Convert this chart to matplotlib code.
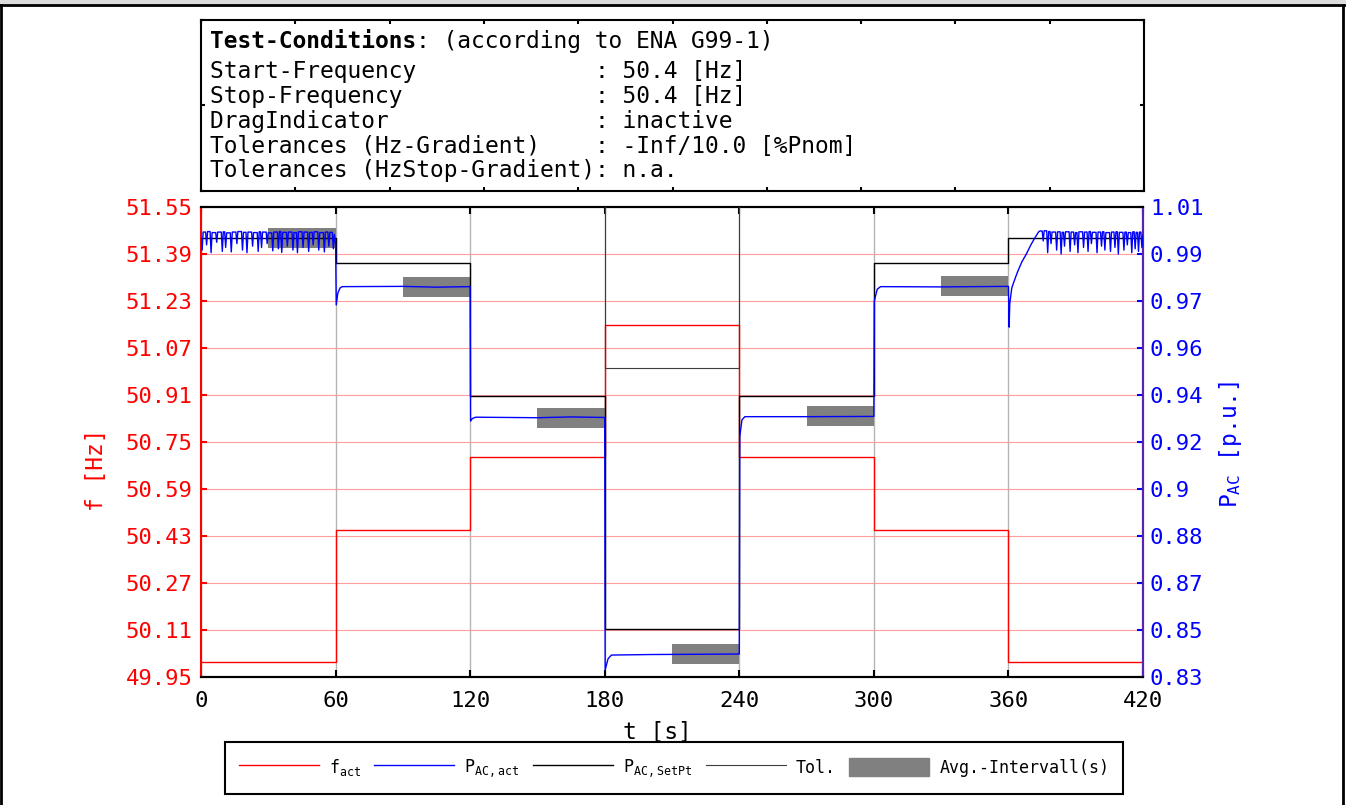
import numpy as np
import matplotlib
matplotlib.use("Agg")
import matplotlib.pyplot as plt
from matplotlib.lines import Line2D
from matplotlib.patches import Patch

plt.rcParams['font.family'] = ['DejaVu Sans Mono']
plt.rcParams['mathtext.default'] = 'regular'

# step boundaries (s) and levels per 60 s segment
seg_edges = [0, 60, 120, 180, 240, 300, 360, 420]
f_act_levels = [50.0, 50.45, 50.70, 51.15, 50.70, 50.45, 50.0]
p_setpt_levels = [0.9982, 0.9886, 0.9376, 0.8484, 0.9376, 0.9886, 0.9982]
tol_levels = [1.0982, 1.0886, 1.0376, 0.9483, 1.0376, 1.0886, 1.0982]

# averaging intervals: start, centre, half height
avg_start = [30, 90, 150, 210, 270, 330]
avg_center = [0.9981, 0.9794, 0.9292, 0.8388, 0.9300, 0.9797]
avg_half = [0.0038, 0.0038, 0.0038, 0.0038, 0.0038, 0.0038]

# measured P_AC (p.u.) - first segment: dips below the upper level
dip_t0 = [0.5, 2.5, 4.5, 7.0, 9.5, 11.0, 13.5, 16.0, 18.5, 20.5, 23.0, 25.5, 27.0, 29.5,
          32.0, 34.5, 36.0, 38.5, 41.0, 43.0, 45.5, 48.0, 50.0, 52.5, 55.0, 57.0, 59.0]
dip_v0 = [0.9935, 0.9955, 0.9925, 0.9965, 0.9930, 0.9945, 0.9928, 0.9960, 0.9935, 0.9925,
          0.9950, 0.9930, 0.9945, 0.9960, 0.9932, 0.9940, 0.9926, 0.9950, 0.9935, 0.9925,
          0.9945, 0.9930, 0.9955, 0.9935, 0.9928, 0.9950, 0.9940]
top_v0 = [1.0004, 1.0006, 1.0002, 1.0004, 1.0005, 1.0001, 1.0004, 1.0006, 1.0003, 1.0004,
          1.0002, 1.0005, 1.0004, 1.0001, 1.0004, 1.0006, 1.0003, 1.0004, 1.0002, 1.0005,
          1.0004, 1.0003, 1.0005, 1.0002, 1.0004, 1.0003, 0.9995]
# transitions between segments
p_mid_t = [60.0, 60.3, 61.0, 62.0, 63.0, 90.0, 105.0, 119.8,
           120.0, 120.2, 121.0, 122.5, 150.0, 165.0, 179.8,
           180.0, 180.2, 181.5, 183.0, 200.0, 239.8,
           240.0, 240.2, 241.2, 242.5, 270.0, 299.6,
           300.0, 300.2, 301.5, 303.0, 330.0, 359.7,
           360.0, 360.3, 360.6, 361.5, 362.5, 364.0, 366.0, 368.0, 370.0, 372.0, 373.5]
p_mid_v = [0.9960, 0.9725, 0.9770, 0.9790, 0.9795, 0.9796, 0.9793, 0.9795,
           0.9795, 0.9280, 0.9290, 0.9295, 0.9293, 0.9296, 0.9294,
           0.9294, 0.8327, 0.8370, 0.8384, 0.8386, 0.8388,
           0.8388, 0.9220, 0.9285, 0.9297, 0.9297, 0.9298,
           0.9298, 0.9740, 0.9785, 0.9795, 0.9794, 0.9796,
           0.9796, 0.9640, 0.9730, 0.9790, 0.9815, 0.9850, 0.9890, 0.9920, 0.9955, 0.9985, 1.0005]
# last segment: dips below the upper level
dip_t6 = [375.5, 377.5, 379.0, 381.5, 383.5, 385.0, 387.5, 389.5, 391.0, 393.5, 395.5, 397.0,
          399.5, 401.5, 403.0, 405.5, 407.5, 409.0, 411.5, 413.0, 415.0, 416.5, 418.0, 419.5]
dip_v6 = [0.9970, 0.9925, 0.9960, 0.9935, 0.9920, 0.9950, 0.9930, 0.9955, 0.9925, 0.9945,
          0.9930, 0.9960, 0.9925, 0.9950, 0.9935, 0.9930, 0.9945, 0.9920, 0.9935, 0.9955,
          0.9925, 0.9940, 0.9930, 0.9945]
top_v6 = [1.0009, 1.0006, 1.0004, 1.0005, 1.0003, 1.0005, 1.0004, 1.0002, 1.0005, 1.0004,
          1.0006, 1.0003, 1.0004, 1.0005, 1.0002, 1.0004, 1.0005, 1.0003, 1.0004, 1.0002,
          1.0005, 1.0003, 1.0004, 0.9990]

x_ticks = [0, 60, 120, 180, 240, 300, 360, 420]
f_ticks = [49.95, 50.11, 50.27, 50.43, 50.59, 50.75, 50.91, 51.07, 51.23, 51.39, 51.55]
p_ticks = [0.83, 0.848, 0.866, 0.884, 0.902, 0.92, 0.938, 0.956, 0.974, 0.992, 1.01]
p_tick_labels = ['0.83', '0.85', '0.87', '0.88', '0.9', '0.92', '0.94', '0.96', '0.97', '0.99', '1.01']

info_lines = [
    ("Start-Frequency", "50.4 [Hz]"),
    ("Stop-Frequency", "50.4 [Hz]"),
    ("DragIndicator", "inactive"),
    ("Tolerances (Hz-Gradient)", "-Inf/10.0 [%Pnom]"),
    ("Tolerances (HzStop-Gradient)", "n.a."),
]


def dip_trace(t_start, v_start, dip_t, dip_v, top_v, w=0.45):
    ts, vs = [t_start], [v_start]
    for t, d, top in zip(dip_t, dip_v, top_v):
        ts += [t - w, t, t + w]
        vs += [vs[-1], d, top]
    return ts, vs


W, H = 1346, 805
fig = plt.figure(figsize=(W / 100, H / 100), dpi=100)

# ---- info box
axi = fig.add_axes([201 / W, 1 - 191 / H, 943 / W, 171 / H])
axi.set_xlim(0, 1)
axi.set_ylim(0, 1)
axi.set_xticks(np.arange(0, 1.01, 0.1))
axi.set_yticks([0, 0.5, 1])
axi.tick_params(direction='in', length=3, width=1.5, top=True, right=True,
                labelbottom=False, labelleft=False)
for s in axi.spines.values():
    s.set_linewidth(1.5)
t1 = axi.text(0.0095, 0.877, "Test-Conditions", fontsize=16.5, fontweight='bold', va='center')
axi.annotate(": (according to ENA G99-1)", xy=(1, 0), xycoords=t1, va='bottom', fontsize=16.5)
line_y = [0.696, 0.550, 0.409, 0.263, 0.117]
for (k, v), yy in zip(info_lines, line_y):
    axi.text(0.0095, yy, f"{k:<28s}: {v}", fontsize=16.5, va='center')

# ---- main axes
ax = fig.add_axes([201 / W, 1 - 677 / H, 942 / W, 470 / H])
ax2 = ax.twinx()

ax.set_xlim(0, 420)
ax.set_ylim(49.95, 51.55)
ax2.set_ylim(0.83, 1.01)

ax.set_yticks(f_ticks)
ax.set_yticklabels([f"{v:.2f}" for v in f_ticks])
ax.set_xticks(x_ticks)
ax2.set_yticks(p_ticks)
ax2.set_yticklabels(p_tick_labels)

ax.grid(axis='y', color='#ff9c9c', lw=0.8)
ax.grid(axis='x', color='#b4b4b4', lw=1.0)
ax.set_axisbelow(True)

ax.tick_params(axis='y', colors='red', direction='in', length=4, width=1.5, pad=6, labelsize=16)
ax.tick_params(axis='x', colors='black', direction='in', length=5, width=1.5, pad=10,
               labelsize=16, top=True)
ax2.tick_params(axis='y', colors='blue', direction='in', length=4, width=1.5, pad=5, labelsize=16)

ax.spines['left'].set_color('red')
ax2.spines['left'].set_visible(False)
ax2.spines['right'].set_color('#5a22b4')
for a in (ax, ax2):
    for s in a.spines.values():
        s.set_linewidth(1.5)

# frequency
f_steps = f_act_levels + [f_act_levels[-1]]
ax.plot(seg_edges, f_steps, drawstyle='steps-post', color='red', lw=1)

# averaging boxes
ax2.bar(avg_start, [2 * h for h in avg_half], width=30, align='edge',
        bottom=[c - h for c, h in zip(avg_center, avg_half)], color='#808080', zorder=1)

# setpoint and tolerance
ax2.plot(seg_edges, p_setpt_levels + [p_setpt_levels[-1]], drawstyle='steps-post',
         color='black', lw=1, zorder=3)
ax2.plot(seg_edges, tol_levels + [tol_levels[-1]], drawstyle='steps-post',
         color='#3c3c3c', lw=0.8, zorder=3)

# measured power
t0, v0 = dip_trace(0.0, 0.9975, dip_t0, dip_v0, top_v0)
t6, v6 = dip_trace(374.0, 1.0008, dip_t6, dip_v6, top_v6)
p_t = t0 + p_mid_t + t6
p_v = v0 + p_mid_v + v6
ax2.plot(p_t, p_v, color='blue', lw=1, zorder=4)

ax.set_xlabel("t [s]", fontsize=16.5)
ax.xaxis.set_label_coords(0.485, -0.093)
ax.set_ylabel("f [Hz]", fontsize=16.5, color='red')
ax.yaxis.set_label_coords(-0.099, 0.44)
ax2.set_ylabel("P$_{AC}$ [p.u.]", fontsize=16.5, color='blue')
ax2.yaxis.set_label_coords(1.079, 0.494)

# legend
handles = [Line2D([], [], color='red', lw=1),
           Line2D([], [], color='blue', lw=1),
           Line2D([], [], color='black', lw=1),
           Line2D([], [], color='#3c3c3c', lw=0.8),
           Patch(facecolor='#808080', edgecolor='#808080')]
labels = ['f$_{act}$', 'P$_{AC,act}$', 'P$_{AC,SetPt}$', 'Tol.', 'Avg.-Intervall(s)']
leg = fig.legend(handles, labels, loc='center', bbox_to_anchor=(674 / W, 1 - 768 / H),
                 ncol=5, fontsize=12, handlelength=4.8, handleheight=1.3,
                 handletextpad=0.6, columnspacing=0.8, fancybox=False,
                 edgecolor='black', framealpha=1, borderpad=0.85)
leg.get_frame().set_linewidth(1.5)

# outer frame
fig.add_artist(plt.Rectangle((0, 1 - 4 / H), 1, 4 / H, transform=fig.transFigure,
                             color='#dcdcdc', lw=0))
fig.add_artist(Line2D([0, 1], [1 - 5 / H, 1 - 5 / H], transform=fig.transFigure, color='black', lw=2))
fig.add_artist(Line2D([1 / W, 1 / W], [0, 1 - 5 / H], transform=fig.transFigure, color='black', lw=2))
fig.add_artist(Line2D([1343 / W, 1343 / W], [0, 1 - 5 / H], transform=fig.transFigure, color='black', lw=2))

fig.savefig("out.png", dpi=100)
